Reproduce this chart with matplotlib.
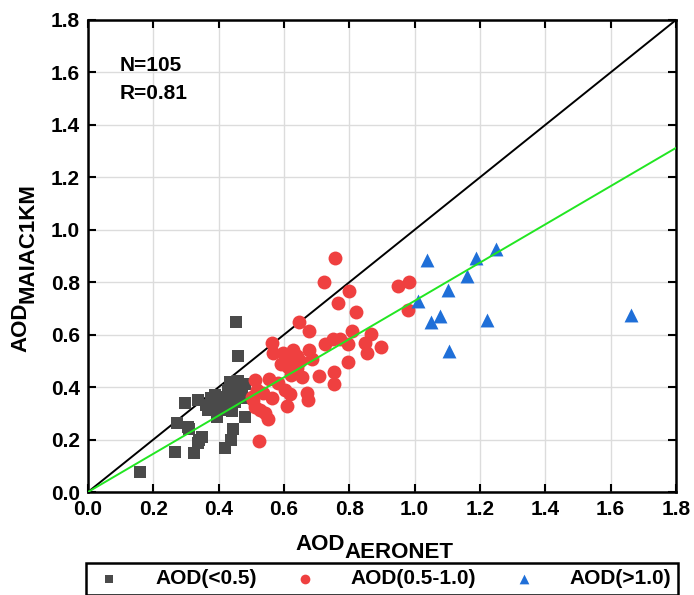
import numpy as np
import matplotlib.pyplot as plt

plt.rcParams['font.family'] = 'Liberation Sans'
plt.rcParams['font.weight'] = 'bold'

# AOD < 0.5
x_baixo = [0.160, 0.453, 0.458, 0.435, 0.460, 0.297, 0.336, 0.378, 0.409, 0.445,
           0.470, 0.384, 0.414, 0.450, 0.368, 0.394, 0.481, 0.271, 0.307, 0.266,
           0.325, 0.348, 0.338, 0.419, 0.437, 0.445, 0.394, 0.419, 0.400, 0.430,
           0.360, 0.420, 0.470, 0.390, 0.440, 0.340, 0.480, 0.310]
y_baixo = [0.075, 0.650, 0.519, 0.421, 0.423, 0.338, 0.351, 0.357, 0.363, 0.376,
           0.389, 0.319, 0.325, 0.344, 0.313, 0.300, 0.287, 0.262, 0.249, 0.154,
           0.148, 0.211, 0.186, 0.167, 0.198, 0.239, 0.287, 0.313, 0.340, 0.390,
           0.330, 0.350, 0.360, 0.370, 0.310, 0.200, 0.410, 0.240]

# AOD 0.5 - 1.0
x_medio = [0.756, 0.722, 0.800, 0.766, 0.820, 0.647, 0.676, 0.807, 0.865, 0.848,
           0.896, 0.855, 0.751, 0.771, 0.725, 0.797, 0.676, 0.562, 0.567, 0.598,
           0.628, 0.634, 0.608, 0.649, 0.685, 0.613, 0.639, 0.623, 0.654, 0.708,
           0.753, 0.753, 0.795, 0.583, 0.555, 0.511, 0.516, 0.537, 0.603, 0.618,
           0.562, 0.669, 0.675, 0.608, 0.506, 0.511, 0.526, 0.542, 0.552, 0.501,
           0.524, 0.950, 0.984, 0.980, 0.590, 0.640]
y_medio = [0.891, 0.802, 0.768, 0.720, 0.688, 0.650, 0.615, 0.615, 0.603, 0.567,
           0.552, 0.531, 0.582, 0.582, 0.564, 0.564, 0.541, 0.569, 0.531, 0.529,
           0.541, 0.522, 0.503, 0.501, 0.506, 0.478, 0.472, 0.446, 0.440, 0.442,
           0.459, 0.412, 0.497, 0.417, 0.430, 0.427, 0.389, 0.376, 0.389, 0.374,
           0.357, 0.376, 0.351, 0.328, 0.351, 0.325, 0.313, 0.300, 0.277, 0.363,
           0.194, 0.787, 0.800, 0.694, 0.490, 0.520]

# AOD > 1.0
x_alto = [1.037, 1.188, 1.249, 1.159, 1.103, 1.011, 1.077, 1.050, 1.222, 1.106, 1.662]
y_alto = [0.885, 0.891, 0.926, 0.825, 0.770, 0.730, 0.671, 0.647, 0.656, 0.539, 0.675]

# ajuste linear (sem intercepto) e estatisticas
inclinacao = 0.729
N = 105
R = 0.81

fig = plt.figure(figsize=(6.94, 5.95), dpi=100)
ax = fig.add_axes([0.1268, 0.1731, 0.8472, 0.7933])

ax.grid(True, color='#dcdcdc', linewidth=1.0, zorder=0)
ax.set_axisbelow(True)

linha = np.array([0, 1.8])
ax.plot(linha, linha, color='black', linewidth=1.4, zorder=2)
ax.plot(linha, inclinacao * linha, color='#22e622', linewidth=1.4, zorder=4)

ax.scatter(x_baixo, y_baixo, marker='s', s=78, color='#4a4a4a', linewidths=0,
           label='AOD(<0.5)', zorder=3)
ax.scatter(x_medio, y_medio, marker='o', s=100, color='#ef4040', linewidths=0,
           label='AOD(0.5-1.0)', zorder=3)
ax.scatter(x_alto, y_alto, marker='^', s=100, color='#1f6fd8', linewidths=0,
           label='AOD(>1.0)', zorder=3)

ax.set_xlim(0, 1.8)
ax.set_ylim(0, 1.8)
ticks = np.arange(0, 1.81, 0.2)
ax.set_xticks(ticks)
ax.set_yticks(ticks)
ax.set_xticklabels(['%.1f' % t for t in ticks])
ax.set_yticklabels(['%.1f' % t for t in ticks])
ax.tick_params(direction='in', length=6, width=1.5, top=True, right=True,
               labelsize=15, pad=6)
for s in ax.spines.values():
    s.set_linewidth(1.8)

ax.text(0.098, 1.628, 'N=%d' % N, fontsize=15, fontweight='bold', va='center')
ax.text(0.098, 1.52, 'R=%.2f' % R, fontsize=15, fontweight='bold', va='center')

# rotulos com subscrito do mesmo tamanho
tx = fig.text(295 / 694, 1 - 550 / 595, 'AOD', fontsize=16, fontweight='bold',
              ha='left', va='baseline')
ax.annotate('AERONET', xy=(1, 0), xycoords=tx, xytext=(0, -2),
            textcoords='offset points', fontsize=16, fontweight='bold',
            ha='left', va='baseline')

ty = fig.text(26 / 694, 1 - 352 / 595, 'AOD', fontsize=16, fontweight='bold',
              rotation=90, rotation_mode='anchor', ha='left', va='baseline')
ax.annotate('MAIAC1KM', xy=(1, 1), xycoords=ty, xytext=(2, 0),
            textcoords='offset points', fontsize=16, fontweight='bold',
            rotation=90, rotation_mode='anchor', ha='left', va='baseline')

leg = fig.legend(loc='upper center', bbox_to_anchor=(382 / 694, 1 - 563 / 595),
                 ncol=3, fancybox=False, edgecolor='black',
                 markerscale=0.7, prop={'size': 15, 'weight': 'bold'},
                 handlelength=1.6, handletextpad=1.4, columnspacing=1.5,
                 borderpad=0.3, borderaxespad=0, framealpha=1)
leg.get_frame().set_linewidth(1.8)

fig.savefig('out.png', dpi=100)
